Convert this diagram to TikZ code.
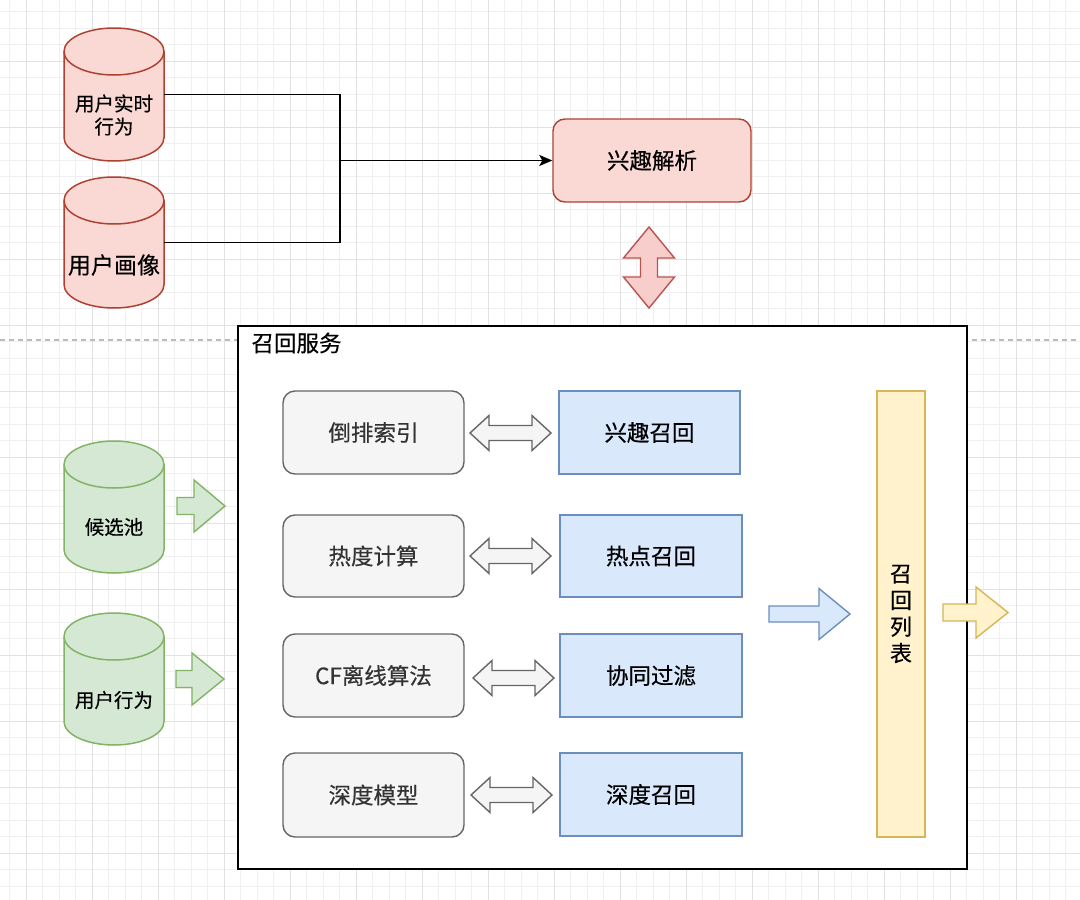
\documentclass[tikz,border=0pt]{standalone}
\usepackage{fontspec}
\setmainfont{Noto Sans CJK SC}[FakeBold=0.4]
\usetikzlibrary{arrows.meta}
\definecolor{redf}{HTML}{FAD9D5}
\definecolor{reds}{HTML}{AE4132}
\definecolor{redaf}{HTML}{F8CECC}
\definecolor{redas}{HTML}{B85450}
\definecolor{greenf}{HTML}{D5E8D4}
\definecolor{greens}{HTML}{82B366}
\definecolor{bluef}{HTML}{DAE8FC}
\definecolor{blues}{HTML}{6C8EBF}
\definecolor{yelf}{HTML}{FFF2CC}
\definecolor{yels}{HTML}{D6B656}
\definecolor{grayf}{HTML}{F5F5F5}
\definecolor{grays}{HTML}{666666}
\definecolor{grayt}{HTML}{333333}
\definecolor{gridminor}{HTML}{F0F0F0}
\definecolor{gridmajor}{HTML}{E2E2E2}
\definecolor{dashc}{HTML}{BBBBBB}
\newcommand\mycyl[5]{%
  \pgfmathsetmacro\cylta{#2+23.5}%
  \pgfmathsetmacro\cylbb{#3-23.5}%
  \filldraw[fill=#4,draw=#5,line width=1.5pt] (#1-50,\cylta) -- (#1-50,\cylbb)
    .. controls (#1-50,\cylbb+12.98) and (#1-27.6,#3) .. (#1,#3)
    .. controls (#1+27.6,#3) and (#1+50,\cylbb+12.98) .. (#1+50,\cylbb)
    -- (#1+50,\cylta)
    .. controls (#1+50,\cylta-12.98) and (#1+27.6,#2) .. (#1,#2)
    .. controls (#1-27.6,#2) and (#1-50,\cylta-12.98) .. (#1-50,\cylta) -- cycle;
  \draw[draw=#5,line width=1.5pt] (#1-50,\cylta)
    .. controls (#1-50,\cylta+12.98) and (#1-27.6,#2+47) .. (#1,#2+47)
    .. controls (#1+27.6,#2+47) and (#1+50,\cylta+12.98) .. (#1+50,\cylta);
}
\newcommand\hdarr[3]{%
  \filldraw[fill=grayf,draw=grays,line width=1.4pt] (#1,#3) -- (#1+19,#3-17.5) -- (#1+19,#3-7.5)
    -- (#2-19,#3-7.5) -- (#2-19,#3-17.5) -- (#2,#3) -- (#2-19,#3+17.5) -- (#2-19,#3+7.5)
    -- (#1+19,#3+7.5) -- (#1+19,#3+17.5) -- cycle;
}
\newcommand\sarr[8]{%
  \filldraw[fill=#7,draw=#8,line width=1.4pt] (#1,#4-#5) -- (#2,#4-#5) -- (#2,#4-#6) -- (#3,#4)
    -- (#2,#4+#6) -- (#2,#4+#5) -- (#1,#4+#5) -- cycle;
}
\tikzset{
  x=1pt, y=-1pt,
  big/.style={font=\fontsize{22.5}{27}\selectfont},
  small/.style={font=\fontsize{19.5}{23}\selectfont},
  graybox/.style={draw=grays, fill=grayf, line width=1.4pt, rounded corners=12pt, text=grayt, big, inner sep=0pt},
  bluebox/.style={draw=blues, fill=bluef, line width=1.4pt, big, inner sep=0pt},
  cylbox/.style={draw=none, inner sep=0pt, minimum width=100pt},
  conn/.style={line width=1.9pt, black},
}
\begin{document}
\begin{tikzpicture}
\useasboundingbox (0,0) rectangle (1080,900);
\fill[white] (0,0) rectangle (1080,900);
% grid
\foreach \i in {0,...,64} { \draw[gridminor,line width=0.9pt] ({9.5+16.5*\i},0) -- ({9.5+16.5*\i},900); }
\foreach \i in {0,...,53} { \draw[gridminor,line width=0.9pt] (0,{11.5+16.5*\i}) -- (1080,{11.5+16.5*\i}); }
\foreach \i in {0,...,15} { \draw[gridmajor,line width=0.9pt] ({26+66*\i},0) -- ({26+66*\i},900); }
\foreach \i in {0,...,12} { \draw[gridmajor,line width=0.9pt] (0,{61+66*\i}) -- (1080,{61+66*\i}); }
% dashed separator
\draw[dashc, line width=1.1pt, dash pattern=on 5pt off 4pt] (0,340) -- (1080,340);

% ---- top part ----
\mycyl{114}{28}{161}{redf}{reds}
\node[cylbox, minimum height=133pt] (rt) at (114,94.5) {};
\node[small, align=center] (rtt) at (114,115) {用户实时\\行为};
\mycyl{114}{177}{308}{redf}{reds}
\node[cylbox, minimum height=131pt] (up) at (114,242.5) {};
\node[font=\fontsize{23}{27}\selectfont] (upt) at (114,265) {用户画像};

\node[draw=reds, fill=redf, line width=1.4pt, rounded corners=12pt, big,
      minimum width=198pt, minimum height=83pt, inner sep=0pt] (xq) at (652,160.5) {兴趣解析};

\coordinate (j) at (340,160.5);
\draw[conn] (rt.east) -| (j);
\draw[conn] (up.east) -| (j);
\draw[conn, -{Stealth[length=13pt,width=11pt,inset=3pt]}] (j) -- (xq.west);

% red vertical double arrow
\filldraw[fill=redaf, draw=redas, line width=1.4pt]
  (649,227) -- (674.5,258) -- (657.5,258) -- (657.5,277) -- (674.5,277) -- (649,308)
  -- (623.5,277) -- (640.5,277) -- (640.5,258) -- (623.5,258) -- cycle;

% ---- container ----
\node[draw=black, fill=white, line width=1.9pt, minimum width=729pt, minimum height=543pt,
      inner sep=0pt] (svc) at (602.5,597.5) {};
\node[big, anchor=west] (svct) at (248,343) {召回服务};

% left data sources
\mycyl{114}{441}{573}{greenf}{greens}
\node[cylbox, minimum height=132pt] (pool) at (114,507) {};
\node[small] (poolt) at (114,527) {候选池};
\mycyl{114}{613}{745}{greenf}{greens}
\node[cylbox, minimum height=132pt] (ub) at (114,679) {};
\node[small] (ubt) at (114,700) {用户行为};
\sarr{177}{194}{225}{506}{8.5}{26}{greenf}{greens}
\sarr{176}{192}{224}{679}{8.5}{26}{greenf}{greens}

% gray boxes
\node[graybox, minimum width=181pt, minimum height=83pt] (g1) at (373.5,432.5) {倒排索引};
\node[graybox, minimum width=181pt, minimum height=82pt] (g2) at (373.5,556) {热度计算};
\node[graybox, minimum width=181pt, minimum height=83pt] (g3) at (373.5,675.5) {CF离线算法};
\node[graybox, minimum width=181pt, minimum height=84pt] (g4) at (373.5,795) {深度模型};

% blue boxes
\node[bluebox, minimum width=181pt, minimum height=83pt] (b1) at (649.5,432.5) {兴趣召回};
\node[bluebox, minimum width=182pt, minimum height=82pt] (b2) at (651,556) {热点召回};
\node[bluebox, minimum width=182pt, minimum height=83pt] (b3) at (651,675.5) {协同过滤};
\node[bluebox, minimum width=182pt, minimum height=83pt] (b4) at (651,794.5) {深度召回};

% gray double arrows
\hdarr{470}{551}{433}
\hdarr{470}{551}{556}
\hdarr{473}{554}{678}
\hdarr{471}{552}{795}

% blue arrow
\sarr{769}{819}{850}{614}{8}{25.5}{bluef}{blues}

% yellow bar
\node[draw=yels, fill=yelf, line width=1.4pt, minimum width=48pt, minimum height=446pt,
      inner sep=0pt, align=center, font=\fontsize{22}{26.5}\selectfont] (list) at (901,614) {召\\回\\列\\表};

% yellow arrow
\sarr{943}{976}{1008}{612.5}{8.5}{25.5}{yelf}{yels}
\end{tikzpicture}
\end{document}
